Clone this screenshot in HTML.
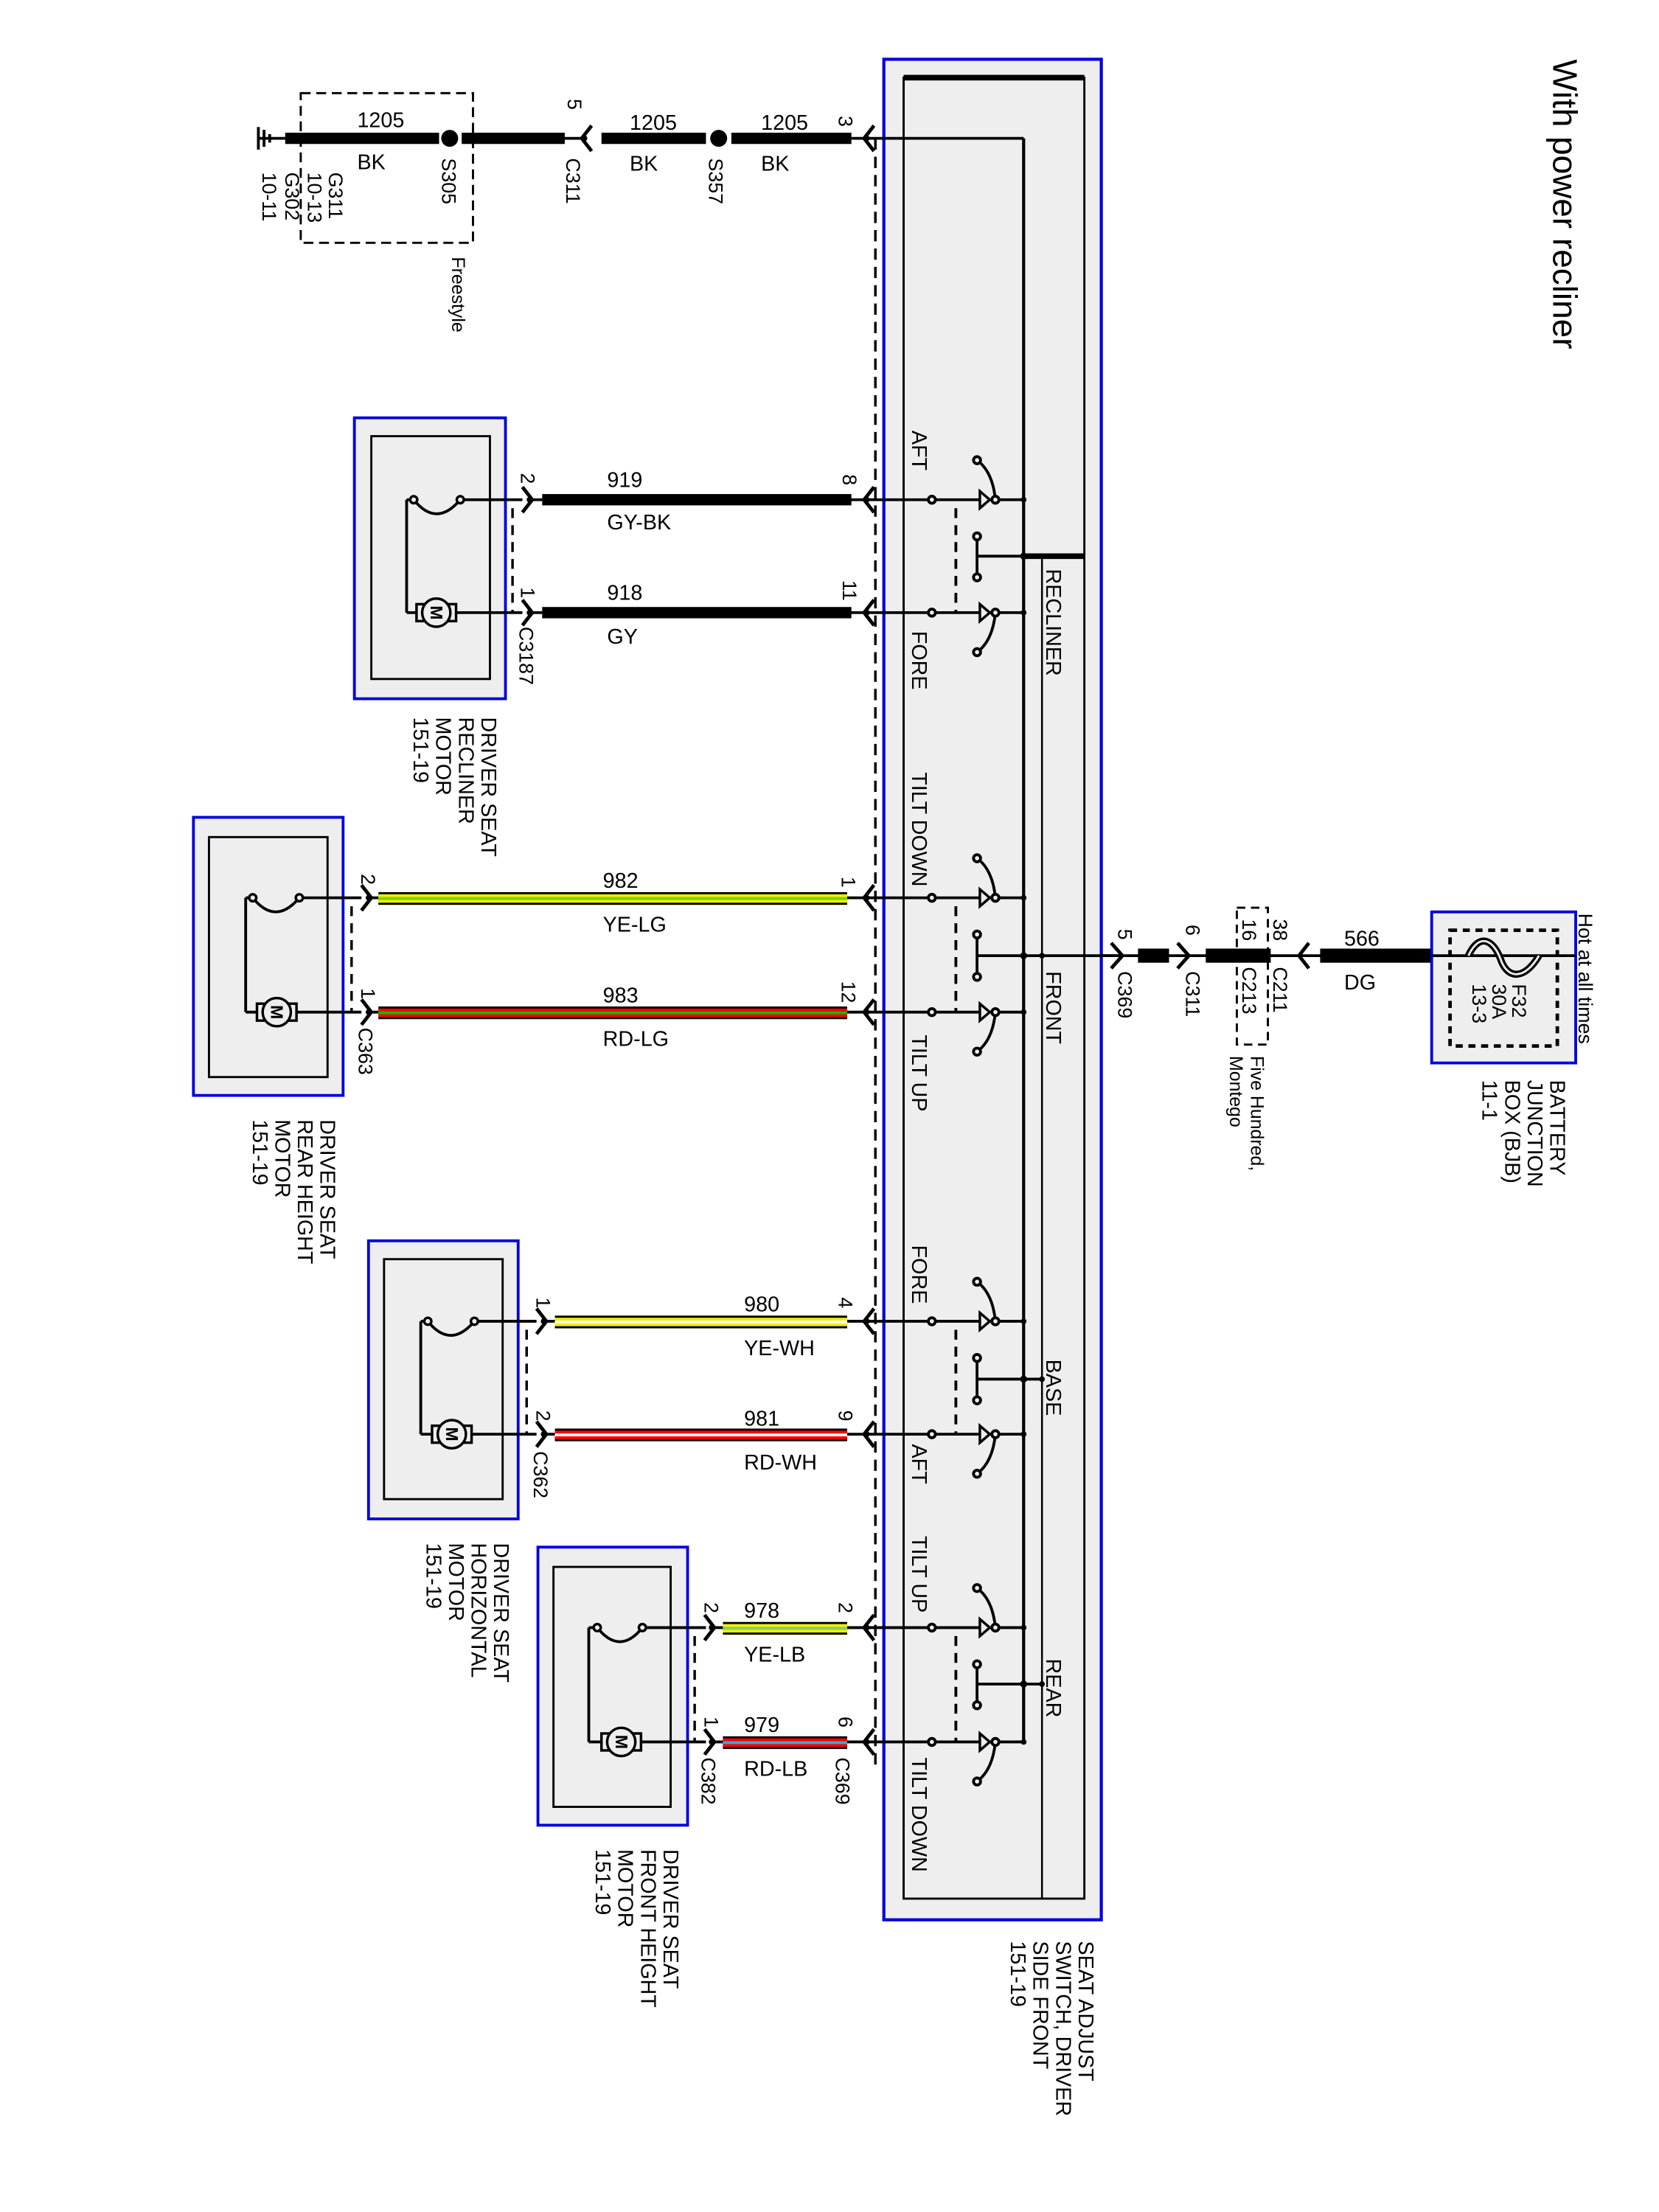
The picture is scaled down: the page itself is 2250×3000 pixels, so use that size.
<!DOCTYPE html>
<html><head><meta charset="utf-8"><style>
html,body{margin:0;padding:0;background:#fff}
svg{display:block}
text{font-family:"Liberation Sans",Arial,sans-serif;fill:#000}
</style></head><body>
<svg width="2250" height="3000" viewBox="0 0 1175 1567" preserveAspectRatio="none" xmlns="http://www.w3.org/2000/svg">
<defs>
<g id="fem"><path d="M7,-9 L0,0 L7,9" fill="none" stroke="#000" stroke-width="2.5"/><circle cx="2" cy="0" r="2"/></g>
<g id="male"><path d="M-7,-9 L0,0 L-7,9" fill="none" stroke="#000" stroke-width="2.5"/><circle cx="-2" cy="0" r="2"/></g>
</defs>
<rect width="1175" height="1567" fill="#fff"/>

<text transform="translate(1100,42) rotate(90)" font-size="24">With power recliner</text>

<rect x="626" y="42" width="154" height="1318" fill="#eeeeee" stroke="#0000dd" stroke-width="2.2"/>
<rect x="640" y="55" width="128" height="1290" fill="#eeeeee" stroke="#000" stroke-width="1.5"/>
<line x1="640" y1="55" x2="768" y2="55" stroke="#000" stroke-width="4"/>
<line x1="738" y1="394" x2="738" y2="1345" stroke="#000" stroke-width="1.3"/>
<line x1="725" y1="98" x2="725" y2="1234" stroke="#000" stroke-width="2.2"/>
<line x1="620" y1="98" x2="620" y2="1250" stroke="#000" stroke-width="1.8" stroke-dasharray="8,5"/>

<line x1="613" y1="98" x2="725" y2="98" stroke="#000" stroke-width="2"/>
<g stroke="#000" stroke-width="2"><line x1="183" y1="90" x2="183" y2="106"/><line x1="187" y1="92" x2="187" y2="104"/><line x1="191" y1="95" x2="191" y2="101"/><line x1="183" y1="98" x2="202" y2="98"/></g>
<rect x="202" y="94" width="109" height="8"/>
<circle cx="318.5" cy="98" r="6"/>
<rect x="327" y="94" width="73" height="8"/>
<line x1="400" y1="98" x2="413" y2="98" stroke="#000" stroke-width="2"/>
<use href="#fem" x="412" y="98"/>
<rect x="426" y="94" width="74" height="8"/>
<circle cx="509" cy="98" r="6"/>
<rect x="518" y="94" width="85" height="8"/>
<line x1="603" y1="98" x2="613" y2="98" stroke="#000" stroke-width="2"/>
<use href="#fem" x="612" y="98"/>
<rect x="213" y="66" width="122" height="106" fill="none" stroke="#000" stroke-width="1.5" stroke-dasharray="7,4"/>
<text x="253" y="90" font-size="15">1205</text>
<text x="446" y="92" font-size="15">1205</text>
<text x="539" y="92" font-size="15">1205</text>
<text x="253" y="120" font-size="15">BK</text>
<text x="446" y="121" font-size="15">BK</text>
<text x="539" y="121" font-size="15">BK</text>
<g font-size="14">
<text transform="translate(233,122) rotate(90)">G311</text>
<text transform="translate(218,122) rotate(90)">10-13</text>
<text transform="translate(202,122) rotate(90)">G302</text>
<text transform="translate(186,122) rotate(90)">10-11</text>
<text transform="translate(313,112) rotate(90)">S305</text>
<text transform="translate(401,112) rotate(90)">C311</text>
<text transform="translate(502,112) rotate(90)">S357</text>
<text transform="translate(402,70) rotate(90)">5</text>
<text transform="translate(594,82) rotate(90)">3</text>
<text transform="translate(320,182) rotate(90)" font-size="13">Freestyle</text>
</g>

<g stroke="#000" stroke-width="2" fill="none">
<path d="M613,354 H725 M613,434 H725 M613,636 H725 M613,717 H725 M613,936 H725 M613,1016 H725 M613,1153 H725 M613,1234 H725"/>
<path d="M705,354 Q703,334 692,326 M705,434 Q703,454 692,462 M705,636 Q703,616 692,608 M705,717 Q703,737 692,745 M705,936 Q703,916 692,908 M705,1016 Q703,1036 692,1044 M705,1153 Q703,1133 692,1125 M705,1234 Q703,1254 692,1262"/>
<path d="M692,380 V409 M692,394 H768 M692,662 V692 M692,677 H795 M692,962 V992 M692,977 H738 M692,1179 V1208 M692,1193 H738" />
<path d="M677,360 V434 M677,642 V717 M677,942 V1016 M677,1159 V1234" stroke-dasharray="7,5"/>
</g>
<line x1="725" y1="394" x2="768" y2="394" stroke="#000" stroke-width="4"/>
<g fill="#eee" stroke="#000" stroke-width="2">
<circle cx="660" cy="354" r="2.5"/><circle cx="660" cy="434" r="2.5"/><circle cx="660" cy="636" r="2.5"/><circle cx="660" cy="717" r="2.5"/><circle cx="660" cy="936" r="2.5"/><circle cx="660" cy="1016" r="2.5"/><circle cx="660" cy="1153" r="2.5"/><circle cx="660" cy="1234" r="2.5"/>
<circle cx="705" cy="354" r="2.5"/><circle cx="705" cy="434" r="2.5"/><circle cx="705" cy="636" r="2.5"/><circle cx="705" cy="717" r="2.5"/><circle cx="705" cy="936" r="2.5"/><circle cx="705" cy="1016" r="2.5"/><circle cx="705" cy="1153" r="2.5"/><circle cx="705" cy="1234" r="2.5"/>
<circle cx="692" cy="326" r="2.5"/><circle cx="692" cy="462" r="2.5"/><circle cx="692" cy="608" r="2.5"/><circle cx="692" cy="745" r="2.5"/><circle cx="692" cy="908" r="2.5"/><circle cx="692" cy="1044" r="2.5"/><circle cx="692" cy="1125" r="2.5"/><circle cx="692" cy="1262" r="2.5"/>
<circle cx="692" cy="380" r="2.5"/><circle cx="692" cy="409" r="2.5"/><circle cx="692" cy="662" r="2.5"/><circle cx="692" cy="692" r="2.5"/><circle cx="692" cy="962" r="2.5"/><circle cx="692" cy="992" r="2.5"/><circle cx="692" cy="1179" r="2.5"/><circle cx="692" cy="1208" r="2.5"/>
</g>
<g fill="#eee" stroke="#000" stroke-width="1.8">
<path d="M694,348 V360 L701,354 Z"/><path d="M694,428 V440 L701,434 Z"/><path d="M694,630 V642 L701,636 Z"/><path d="M694,711 V723 L701,717 Z"/><path d="M694,930 V942 L701,936 Z"/><path d="M694,1010 V1022 L701,1016 Z"/><path d="M694,1147 V1159 L701,1153 Z"/><path d="M694,1228 V1240 L701,1234 Z"/>
</g>
<g>
<circle cx="725" cy="354" r="2"/><circle cx="725" cy="434" r="2"/><circle cx="725" cy="636" r="2"/><circle cx="725" cy="717" r="2"/><circle cx="725" cy="936" r="2"/><circle cx="725" cy="1016" r="2"/><circle cx="725" cy="1153" r="2"/><circle cx="725" cy="1234" r="2"/>
<circle cx="725" cy="677" r="2.5"/><circle cx="738" cy="677" r="2"/><circle cx="725" cy="977" r="2.5"/><circle cx="738" cy="977" r="2"/><circle cx="725" cy="1193" r="2.5"/><circle cx="738" cy="1193" r="2"/><circle cx="725" cy="394" r="2.5"/>
</g>
<g font-size="15">
<text transform="translate(646,305) rotate(90)">AFT</text>
<text transform="translate(646,447) rotate(90)">FORE</text>
<text transform="translate(646,547) rotate(90)">TILT DOWN</text>
<text transform="translate(646,733) rotate(90)">TILT UP</text>
<text transform="translate(646,882) rotate(90)">FORE</text>
<text transform="translate(646,1023) rotate(90)">AFT</text>
<text transform="translate(646,1088) rotate(90)">TILT UP</text>
<text transform="translate(646,1245) rotate(90)">TILT DOWN</text>
<text transform="translate(741,403) rotate(90)">RECLINER</text>
<text transform="translate(741,688) rotate(90)">FRONT</text>
<text transform="translate(741,963) rotate(90)">BASE</text>
<text transform="translate(741,1175) rotate(90)">REAR</text>
<text transform="translate(764,1375) rotate(90)">SEAT ADJUST</text>
<text transform="translate(748,1375) rotate(90)">SWITCH, DRIVER</text>
<text transform="translate(732,1375) rotate(90)">SIDE FRONT</text>
<text transform="translate(716,1375) rotate(90)">151-19</text>
</g>

<use href="#fem" x="612" y="354"/><use href="#fem" x="612" y="434"/><use href="#fem" x="612" y="636"/><use href="#fem" x="612" y="717"/><use href="#fem" x="612" y="936"/><use href="#fem" x="612" y="1016"/><use href="#fem" x="612" y="1153"/><use href="#fem" x="612" y="1234"/>

<rect x="251" y="296" width="107" height="199" fill="#eeeeee" stroke="#0000dd" stroke-width="2"/>
<rect x="263" y="309" width="84" height="172" fill="#eeeeee" stroke="#000" stroke-width="1.5"/>
<rect x="137" y="579" width="106" height="197" fill="#eeeeee" stroke="#0000dd" stroke-width="2"/>
<rect x="148" y="593" width="84" height="170" fill="#eeeeee" stroke="#000" stroke-width="1.5"/>
<rect x="261" y="879" width="106" height="197" fill="#eeeeee" stroke="#0000dd" stroke-width="2"/>
<rect x="272" y="892" width="84" height="170" fill="#eeeeee" stroke="#000" stroke-width="1.5"/>
<rect x="381" y="1096" width="106" height="197" fill="#eeeeee" stroke="#0000dd" stroke-width="2"/>
<rect x="392" y="1110" width="83" height="170" fill="#eeeeee" stroke="#000" stroke-width="1.5"/>

<g stroke="#000" stroke-width="2" fill="none">
<path d="M288,354 V434 M288,354 H293 M326,354 H370 M288,434 H370"/>
<path d="M293,354 Q309,374 326,354"/>
<path d="M174,636 V717 M174,636 H179 M212,636 H256 M174,717 H256"/>
<path d="M179,636 Q195,656 212,636"/>
<path d="M298,936 V1016 M298,936 H303 M336,936 H380 M298,1016 H380"/>
<path d="M303,936 Q319,956 336,936"/>
<path d="M417,1153 V1234 M417,1153 H423 M455,1153 H500 M417,1234 H500"/>
<path d="M423,1153 Q439,1173 455,1153"/>
</g>
<g fill="#eee" stroke="#000" stroke-width="1.8">
<circle cx="293" cy="354" r="2.5"/><circle cx="326" cy="354" r="2.5"/>
<circle cx="179" cy="636" r="2.5"/><circle cx="212" cy="636" r="2.5"/>
<circle cx="303" cy="936" r="2.5"/><circle cx="336" cy="936" r="2.5"/>
<circle cx="423" cy="1153" r="2.5"/><circle cx="455" cy="1153" r="2.5"/>
</g>
<g fill="#eee" stroke="#000" stroke-width="1.8">
<rect x="295" y="428" width="28" height="12"/><circle cx="309" cy="434" r="10"/>
<rect x="182" y="711" width="28" height="12"/><circle cx="196" cy="717" r="10"/>
<rect x="306" y="1010" width="28" height="12"/><circle cx="320" cy="1016" r="10"/>
<rect x="426" y="1228" width="28" height="12"/><circle cx="440" cy="1234" r="10"/>
</g>
<g font-size="12" font-weight="bold" text-anchor="middle">
<text transform="translate(305,434) rotate(90)">M</text>
<text transform="translate(192,717) rotate(90)">M</text>
<text transform="translate(316,1016) rotate(90)">M</text>
<text transform="translate(436,1234) rotate(90)">M</text>
</g>
<g stroke="#000" stroke-width="1.8" stroke-dasharray="7,5">
<line x1="363" y1="360" x2="363" y2="434"/>
<line x1="249" y1="642" x2="249" y2="717"/>
<line x1="373" y1="942" x2="373" y2="1016"/>
<line x1="492" y1="1159" x2="492" y2="1234"/>
</g>
<use href="#male" x="377" y="354"/><use href="#male" x="377" y="434"/>
<use href="#male" x="263" y="636"/><use href="#male" x="263" y="717"/>
<use href="#male" x="387" y="936"/><use href="#male" x="387" y="1016"/>
<use href="#male" x="506" y="1153"/><use href="#male" x="506" y="1234"/>
<g stroke="#000" stroke-width="2"><path d="M377,354 H384 M377,434 H384 M263,636 H268 M263,717 H268 M387,936 H393 M387,1016 H393 M506,1153 H512 M506,1234 H512 M600,354 H613 M600,434 H613 M600,636 H613 M600,717 H613 M600,936 H613 M600,1016 H613 M600,1153 H613 M600,1234 H613"/></g>

<rect x="384" y="350" width="219" height="8"/>
<rect x="384" y="430" width="219" height="8"/>
<g>
<rect x="268" y="632" width="332" height="9"/><rect x="268" y="633.5" width="332" height="6" fill="#f0f000"/><rect x="268" y="635.5" width="332" height="2" fill="#7bd000"/>
<rect x="268" y="713" width="332" height="9"/><rect x="268" y="714.5" width="332" height="6" fill="#ff0000"/><rect x="268" y="716.5" width="332" height="2" fill="#00c000"/>
<rect x="393" y="932" width="207" height="9"/><rect x="393" y="933.5" width="207" height="6" fill="#f0f000"/><rect x="393" y="935.5" width="207" height="2" fill="#ffffff"/>
<rect x="393" y="1012" width="207" height="9"/><rect x="393" y="1013.5" width="207" height="6" fill="#ff0000"/><rect x="393" y="1015.5" width="207" height="2" fill="#ffffff"/>
<rect x="512" y="1149" width="88" height="9"/><rect x="512" y="1150.5" width="88" height="6" fill="#f0f000"/><rect x="512" y="1152.5" width="88" height="2" fill="#88cc66"/>
<rect x="512" y="1230" width="88" height="9"/><rect x="512" y="1231.5" width="88" height="6" fill="#ff0000"/><rect x="512" y="1233.5" width="88" height="2" fill="#33aadd"/>
</g>
<g font-size="15">
<text x="430" y="345">919</text><text x="430" y="375">GY-BK</text>
<text x="430" y="425">918</text><text x="430" y="456">GY</text>
<text x="427" y="629">982</text><text x="427" y="660">YE-LG</text>
<text x="427" y="710">983</text><text x="427" y="741">RD-LG</text>
<text x="527" y="929">980</text><text x="527" y="960">YE-WH</text>
<text x="527" y="1010">981</text><text x="527" y="1041">RD-WH</text>
<text x="527" y="1146">978</text><text x="527" y="1177">YE-LB</text>
<text x="527" y="1227">979</text><text x="527" y="1258">RD-LB</text>
</g>
<g font-size="14">
<text transform="translate(369,335) rotate(90)">2</text>
<text transform="translate(369,416) rotate(90)">1</text>
<text transform="translate(597,336) rotate(90)">8</text>
<text transform="translate(597,411) rotate(90)">11</text>
<text transform="translate(256,619) rotate(90)">2</text>
<text transform="translate(256,700) rotate(90)">1</text>
<text transform="translate(596,621) rotate(90)">1</text>
<text transform="translate(596,695) rotate(90)">12</text>
<text transform="translate(380,919) rotate(90)">1</text>
<text transform="translate(380,999) rotate(90)">2</text>
<text transform="translate(594,919) rotate(90)">4</text>
<text transform="translate(594,999) rotate(90)">9</text>
<text transform="translate(499,1135) rotate(90)">2</text>
<text transform="translate(499,1216) rotate(90)">1</text>
<text transform="translate(594,1135) rotate(90)">2</text>
<text transform="translate(594,1216) rotate(90)">6</text>
<text transform="translate(368,444) rotate(90)">C3187</text>
<text transform="translate(254,728) rotate(90)">C363</text>
<text transform="translate(378,1028) rotate(90)">C362</text>
<text transform="translate(497,1245) rotate(90)">C382</text>
<text transform="translate(592,1245) rotate(90)">C369</text>
</g>
<g font-size="15">
<text transform="translate(341,508) rotate(90)">DRIVER SEAT</text>
<text transform="translate(325,508) rotate(90)">RECLINER</text>
<text transform="translate(309,508) rotate(90)">MOTOR</text>
<text transform="translate(293,508) rotate(90)">151-19</text>
<text transform="translate(227,793) rotate(90)">DRIVER SEAT</text>
<text transform="translate(211,793) rotate(90)">REAR HEIGHT</text>
<text transform="translate(195,793) rotate(90)">MOTOR</text>
<text transform="translate(179,793) rotate(90)">151-19</text>
<text transform="translate(350,1093) rotate(90)">DRIVER SEAT</text>
<text transform="translate(334,1093) rotate(90)">HORIZONTAL</text>
<text transform="translate(318,1093) rotate(90)">MOTOR</text>
<text transform="translate(302,1093) rotate(90)">151-19</text>
<text transform="translate(470,1310) rotate(90)">DRIVER SEAT</text>
<text transform="translate(454,1310) rotate(90)">FRONT HEIGHT</text>
<text transform="translate(438,1310) rotate(90)">MOTOR</text>
<text transform="translate(422,1310) rotate(90)">151-19</text>
</g>

<line x1="780" y1="677" x2="1116" y2="677" stroke="#000" stroke-width="2"/>
<path d="M787,668 L795,677 L787,686" fill="none" stroke="#000" stroke-width="2.5"/>
<rect x="806" y="672" width="22" height="10"/>
<path d="M834,668 L842,677 L834,686" fill="none" stroke="#000" stroke-width="2.5"/>
<rect x="854" y="672" width="46" height="10"/>
<rect x="876" y="643" width="22" height="97" fill="none" stroke="#000" stroke-width="1.5" stroke-dasharray="6,4"/>
<path d="M927,668 L920,677 L927,686" fill="none" stroke="#000" stroke-width="2.5"/>
<rect x="935" y="672" width="79" height="10"/>
<rect x="1014" y="646" width="102" height="107" fill="#eeeeee" stroke="#0000dd" stroke-width="2"/>
<rect x="1027" y="659" width="76" height="82" fill="none" stroke="#000" stroke-width="2.5" stroke-dasharray="5,4"/>
<line x1="1014" y1="677" x2="1116" y2="677" stroke="#000" stroke-width="2"/>
<path d="M1040,677 C1048,660 1058,666 1063,680 C1068,694 1080,694 1090,677" fill="none" stroke="#000" stroke-width="5"/>
<path d="M1040,677 C1048,660 1058,666 1063,680 C1068,694 1080,694 1090,677" fill="none" stroke="#eee" stroke-width="1.5"/>
<g font-size="14">
<text transform="translate(792,658) rotate(90)">5</text>
<text transform="translate(792,688) rotate(90)">C369</text>
<text transform="translate(840,655) rotate(90)">6</text>
<text transform="translate(840,688) rotate(90)">C311</text>
<text transform="translate(902,651) rotate(90)">38</text>
<text transform="translate(880,651) rotate(90)">16</text>
<text transform="translate(902,685) rotate(90)">C211</text>
<text transform="translate(880,685) rotate(90)">C213</text>
<text transform="translate(886,748) rotate(90)" font-size="13">Five Hundred,</text>
<text transform="translate(871,748) rotate(90)" font-size="13">Montego</text>
<text transform="translate(1071,697) rotate(90)">F32</text>
<text transform="translate(1057,697) rotate(90)">30A</text>
<text transform="translate(1043,697) rotate(90)">13-3</text>
<text transform="translate(1118,647) rotate(90)">Hot at all times</text>
</g>
<text x="952" y="670" font-size="15">566</text>
<text x="952" y="701" font-size="15">DG</text>
<g font-size="15">
<text transform="translate(1098,765) rotate(90)">BATTERY</text>
<text transform="translate(1082,765) rotate(90)">JUNCTION</text>
<text transform="translate(1066,765) rotate(90)">BOX (BJB)</text>
<text transform="translate(1050,765) rotate(90)">11-1</text>
</g>
</svg>
</body></html>
